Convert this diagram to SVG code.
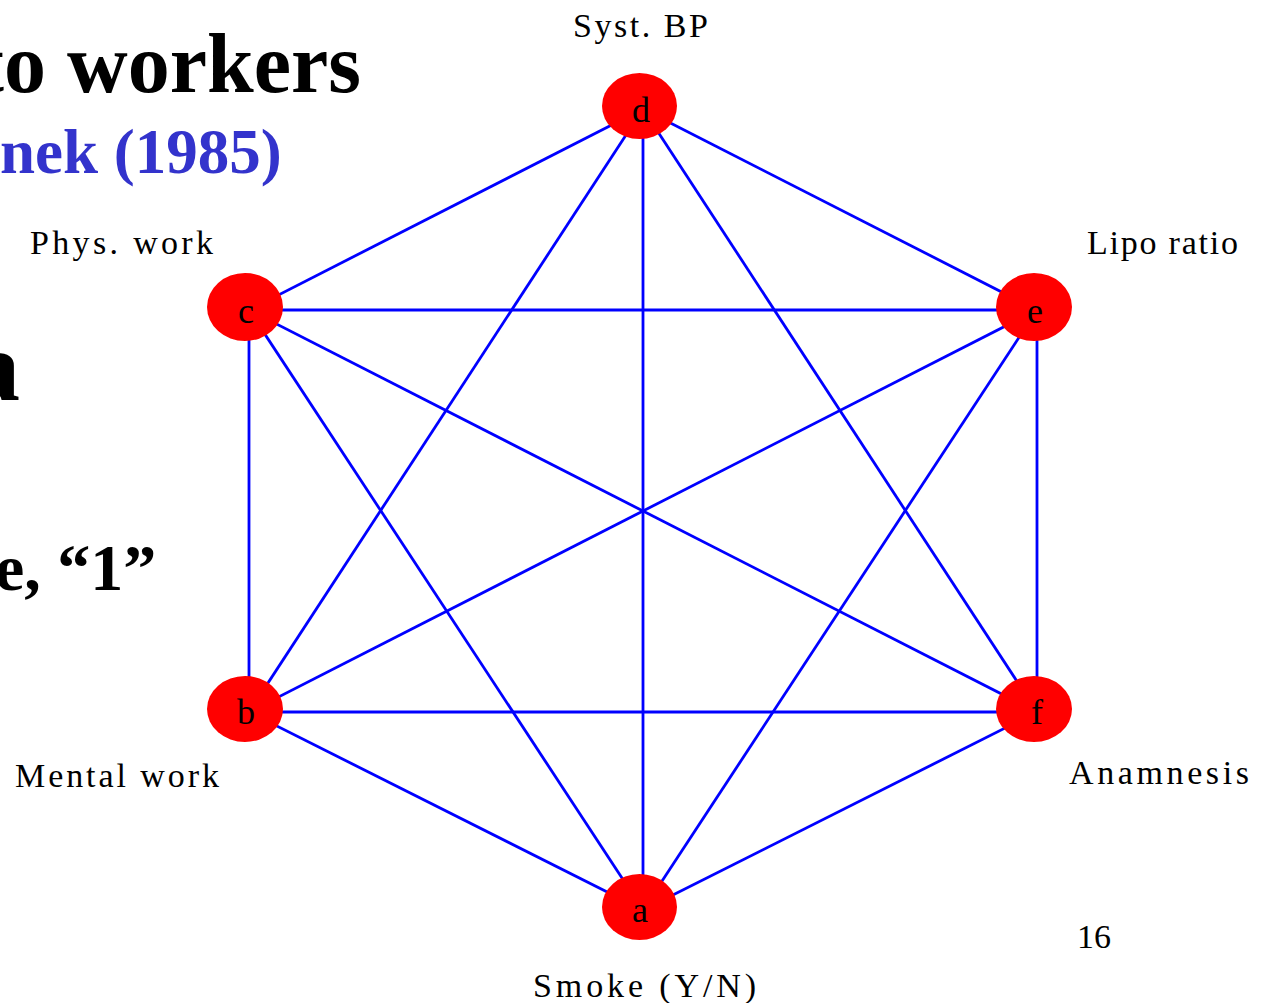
<svg xmlns="http://www.w3.org/2000/svg" width="1268" height="1003" viewBox="0 0 1268 1003">
<style>
.edge{stroke:#0000ff;stroke-width:2.8;fill:none}
.node{fill:#ff0000}
.nl{font-family:"Liberation Serif","Times New Roman",serif;font-size:36px;fill:#000;text-anchor:middle}
.lab{font-family:"Liberation Serif","Times New Roman",serif;font-size:34px;fill:#000}
.big{font-family:"Liberation Serif","Times New Roman",serif;font-weight:bold;fill:#000}
</style>
<rect width="1268" height="1003" fill="#fff"/>
<g id="background-text">
<text class="big" x="-24" y="92" font-size="84">to workers</text>
<text class="big" x="0" y="173" font-size="63" style="fill:#3333cc">nek (1985)</text>
<text class="big" x="-30" y="400" font-size="100">a</text>
<text class="big" x="-5" y="590" font-size="66">e, “1”</text>
<text class="lab" x="1077" y="948">16</text>
</g>
<g id="connectors">
<line class="edge" x1="643" y1="109" x2="249" y2="310"/>
<line class="edge" x1="643" y1="109" x2="1037" y2="310"/>
<line class="edge" x1="643" y1="109" x2="249" y2="712"/>
<line class="edge" x1="643" y1="109" x2="1037" y2="712"/>
<line class="edge" x1="643" y1="109" x2="643" y2="910"/>
<line class="edge" x1="249" y1="310" x2="1037" y2="310"/>
<line class="edge" x1="249" y1="310" x2="249" y2="712"/>
<line class="edge" x1="249" y1="310" x2="1037" y2="712"/>
<line class="edge" x1="249" y1="310" x2="643" y2="910"/>
<line class="edge" x1="1037" y1="310" x2="249" y2="712"/>
<line class="edge" x1="1037" y1="310" x2="1037" y2="712"/>
<line class="edge" x1="1037" y1="310" x2="643" y2="910"/>
<line class="edge" x1="249" y1="712" x2="1037" y2="712"/>
<line class="edge" x1="249" y1="712" x2="643" y2="910"/>
<line class="edge" x1="1037" y1="712" x2="643" y2="910"/>
</g>
<g id="node-d">
<ellipse class="node" cx="639.5" cy="106" rx="37.5" ry="33"/>
<text class="nl" x="641" y="122">d</text>
<text class="lab" x="573" y="37" textLength="135" lengthAdjust="spacing">Syst. BP</text>
</g>
<g id="node-c">
<ellipse class="node" cx="245" cy="307" rx="38" ry="34"/>
<text class="nl" x="246" y="323">c</text>
<text class="lab" x="30" y="254" textLength="183" lengthAdjust="spacing">Phys. work</text>
</g>
<g id="node-e">
<ellipse class="node" cx="1034" cy="307" rx="38" ry="34"/>
<text class="nl" x="1035" y="323">e</text>
<text class="lab" x="1087" y="254" textLength="151" lengthAdjust="spacing">Lipo ratio</text>
</g>
<g id="node-b">
<ellipse class="node" cx="245" cy="709" rx="38" ry="33"/>
<text class="nl" x="246" y="724">b</text>
<text class="lab" x="15" y="787" textLength="204" lengthAdjust="spacing">Mental work</text>
</g>
<g id="node-f">
<ellipse class="node" cx="1034" cy="709" rx="38" ry="33"/>
<text class="nl" x="1037" y="724">f</text>
<text class="lab" x="1069" y="784" textLength="180" lengthAdjust="spacing">Anamnesis</text>
</g>
<g id="node-a">
<ellipse class="node" cx="639.5" cy="907" rx="37.5" ry="33"/>
<text class="nl" x="640" y="922">a</text>
<text class="lab" x="533" y="997" textLength="223" lengthAdjust="spacing">Smoke (Y/N)</text>
</g>
</svg>
